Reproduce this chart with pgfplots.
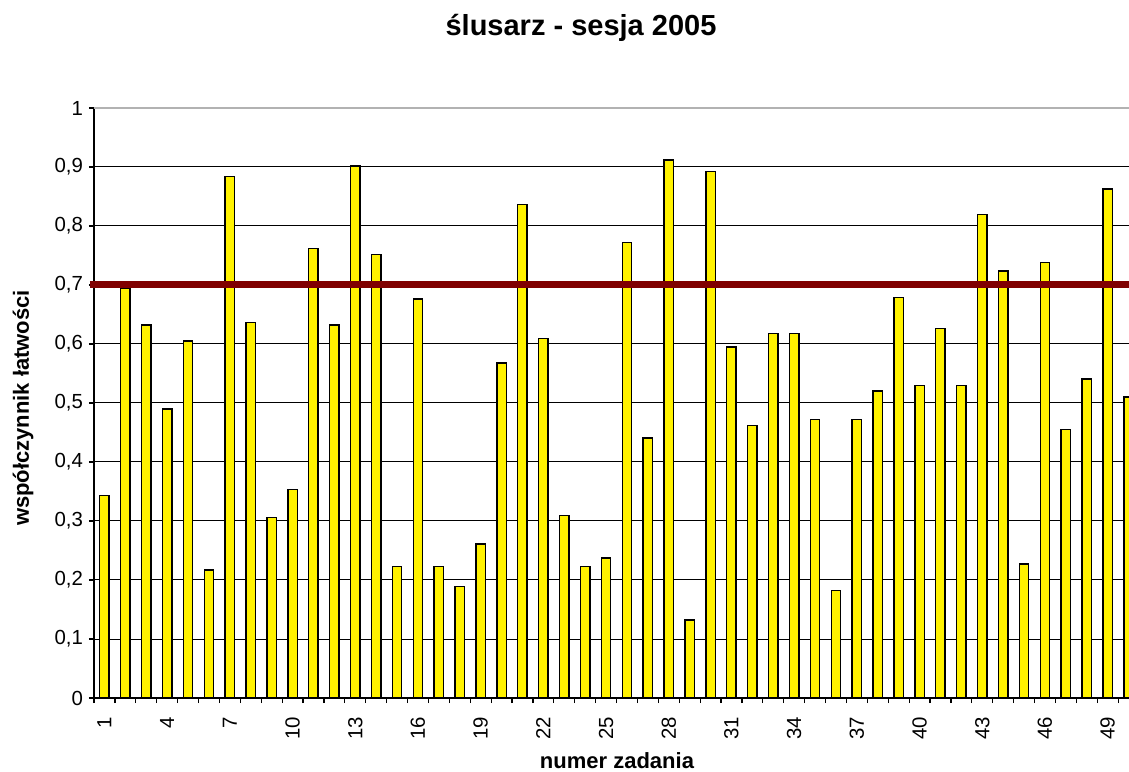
\documentclass[border=0pt]{standalone}
\usepackage{fontspec}
\setmainfont{Liberation Sans}
\usepackage{pgfplots}
\pgfplotsset{compat=1.18}
\definecolor{maroonline}{HTML}{800000}

% one pixel of the reference = 0.5pt
\begin{document}
\begin{tikzpicture}
\useasboundingbox (0,0) rectangle (564.5pt,385.5pt);
\begin{axis}[
    at={(47pt,36.5pt)}, anchor=south west,
    scale only axis,
    width=522.5pt, height=295pt,
    xmin=0.5, xmax=50.5,
    ymin=0, ymax=1,
    axis x line*=bottom,
    axis y line*=left,
    clip=false,
    ybar,
    bar width=0.45,
    tick align=outside,
    major tick length=0pt,
    minor tick length=2.5pt,
    ytick={0,0.1,...,1},
    minor ytick={0,0.1,...,1},
    ymajorgrids=true,
    grid style={black, line width=0.5pt},
    axis line style={black, line width=0.8pt},
    every tick/.style={black, line width=0.6pt},
    xtick={1,4,...,49},
    minor xtick={0.5,1.5,...,50.5},
    xticklabel style={rotate=90, anchor=east, xshift=-6pt},
    yticklabel style={xshift=-2pt},
    ticklabel style={font=\fontsize{10.2}{12}\selectfont},
    /pgf/number format/.cd, use comma, fixed, precision=1, assume math mode=true,
]
\addplot[fill=yellow, draw=black, line width=0.7pt] coordinates {
(1,0.343) (2,0.694) (3,0.632) (4,0.490) (5,0.605)
(6,0.217) (7,0.884) (8,0.636) (9,0.306) (10,0.353)
(11,0.762) (12,0.632) (13,0.902) (14,0.752) (15,0.223)
(16,0.676) (17,0.223) (18,0.189) (19,0.261) (20,0.568)
(21,0.836) (22,0.609) (23,0.309) (24,0.223) (25,0.237)
(26,0.772) (27,0.441) (28,0.912) (29,0.132) (30,0.892)
(31,0.595) (32,0.462) (33,0.618) (34,0.618) (35,0.472)
(36,0.182) (37,0.472) (38,0.520) (39,0.679) (40,0.530)
(41,0.626) (42,0.530) (43,0.819) (44,0.724) (45,0.227)
(46,0.738) (47,0.455) (48,0.541) (49,0.863) (50,0.510)
};
\addplot[sharp plot, maroonline, line width=3.5pt, forget plot] coordinates {
(0.3,0.7) (50.5,0.7)
};
\draw[gray!60, line width=0.8pt] (axis cs:0.5,1) -- (axis cs:50.5,1);
\end{axis}
\node[font=\bfseries\fontsize{14.5}{17}\selectfont, anchor=base] at (290.5pt,367.5pt) {ślusarz - sesja 2005};
\node[font=\bfseries\fontsize{11}{13}\selectfont, anchor=base] at (308.5pt,1.5pt) {numer zadania};
\node[font=\bfseries\fontsize{11}{13}\selectfont, rotate=90, inner sep=0pt] at (11.5pt,181.5pt) {współczynnik łatwości};
\end{tikzpicture}
\end{document}
